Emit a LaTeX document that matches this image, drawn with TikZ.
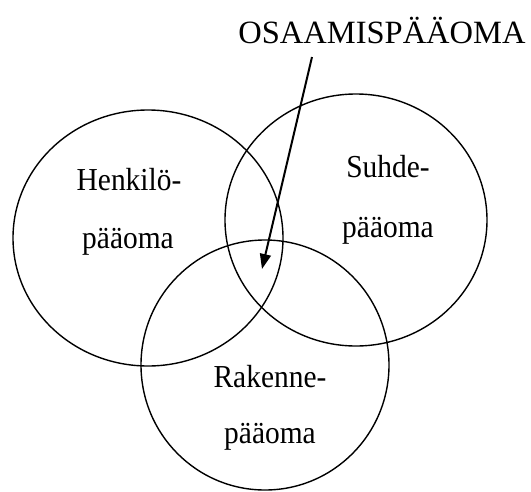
\documentclass[tikz,border=0pt]{standalone}
\usepackage{fontspec}
\setmainfont{Liberation Serif}[FakeStretch=0.92]
\newfontfamily\titlefont{Liberation Serif}
\usetikzlibrary{arrows.meta}
\tikzset{
  venn/.style={draw=black, line width=1.4pt},
  lbl/.style={anchor=base, inner sep=0pt, font=\fontsize{32}{36}\selectfont},
  toptxt/.style={anchor=base, inner sep=0pt, font=\titlefont\fontsize{32.5}{36}\selectfont},
  pointer/.style={line width=2pt, -{Triangle[length=15pt,width=11pt]}}
}
\begin{document}
\begin{tikzpicture}[x=1pt,y=-1pt]
\useasboundingbox (0,0) rectangle (531,491);
% circles
\draw[venn] (148,238) ellipse [x radius=135, y radius=128];
\draw[venn] (356,220) ellipse [x radius=131, y radius=126];
\draw[venn] (265,365) ellipse [x radius=124, y radius=125];
% labels
\node[lbl] (h1) at (129,190) {Henkilö-};
\node[lbl] (h2) at (128,248) {pääoma};
\node[lbl] (s1) at (388,177) {Suhde-};
\node[lbl] (s2) at (388,237) {pääoma};
\node[lbl] (r1) at (270,387) {Rakenne-};
\node[lbl] (r2) at (270,443) {pääoma};
% title and pointer
\node[toptxt] (osa) at (382,43) {OSAAMISPÄÄOMA};
\coordinate (from) at (312,57);
\coordinate (tip) at (262,269);
\draw[pointer] (from) -- (tip);
\end{tikzpicture}
\end{document}
